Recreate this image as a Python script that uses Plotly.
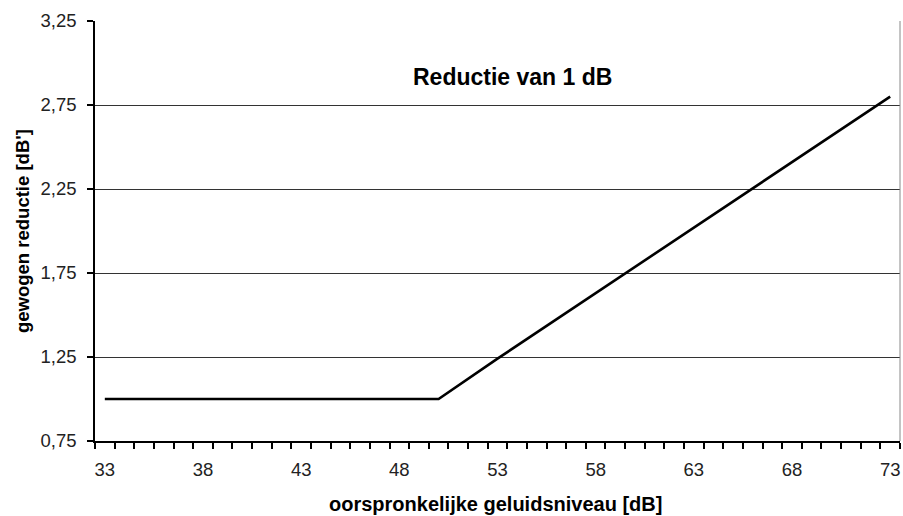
import plotly.graph_objects as go

# Data
x_vals = [33, 38, 43, 48, 50, 53, 58, 63, 68, 73]
y_vals = [1.00, 1.00, 1.00, 1.00, 1.00, 1.24, 1.63, 2.02, 2.41, 2.80]
x_ticks = [33, 38, 43, 48, 53, 58, 63, 68, 73]
y_ticks = [0.75, 1.25, 1.75, 2.25, 2.75, 3.25]

chart_title = "Reductie van 1 dB"
x_title = "oorspronkelijke geluidsniveau [dB]"
y_title = "gewogen reductie [dB']"

FONT = "Liberation Sans, Arial, sans-serif"
L, R, T, B = 95, 900, 21, 441
PW, PH = R - L, B - T

fig = go.Figure()
fig.add_trace(go.Scatter(
    x=x_vals, y=y_vals, mode="lines",
    line=dict(color="black", width=2.6),
    showlegend=False, hoverinfo="skip",
))

fig.update_layout(
    width=903, height=516,
    margin=dict(l=L, r=903 - R, t=T, b=516 - B, autoexpand=False),
    paper_bgcolor="white", plot_bgcolor="white",
    separators=",.",
    font=dict(family=FONT, color="#222222"),
)
fig.add_annotation(text="<b>" + chart_title + "</b>", xref="paper", yref="paper",
                   x=(512 - L) / PW, y=(B - 77) / PH, xanchor="center", yanchor="middle",
                   showarrow=False, font=dict(size=23, color="black", family=FONT))
fig.add_annotation(text="<b>" + x_title + "</b>", xref="paper", yref="paper",
                   x=(495 - L) / PW, y=-(504 - B) / PH, xanchor="center", yanchor="middle",
                   showarrow=False, font=dict(size=20, color="black", family=FONT))
fig.add_annotation(text="<b>" + y_title + "</b>", xref="paper", yref="paper",
                   x=-(L - 22) / PW, y=(B - 231) / PH, xanchor="center", yanchor="middle",
                   showarrow=False, textangle=-90,
                   font=dict(size=18.5, color="black", family=FONT))

fig.update_xaxes(
    range=[32.5, 73.5], tickvals=x_ticks, ticktext=[str(t) for t in x_ticks],
    ticks="", showgrid=False, zeroline=False, automargin=False,
    showline=True, linecolor="black", linewidth=1.5, mirror=False,
    ticklabelstandoff=11,
    tickfont=dict(size=18.5, family=FONT, color="#222222"),
    minor=dict(tick0=32.5, dtick=1, ticks="outside", ticklen=6, tickcolor="black", tickwidth=1.5, showgrid=False),
)
fig.update_yaxes(
    range=[0.75, 3.25], tickvals=y_ticks, tickformat=".2f",
    ticks="outside", ticklen=6, tickcolor="black", tickwidth=1.5,
    showgrid=True, gridcolor="#333333", gridwidth=1,
    zeroline=False, showline=True, linecolor="black", linewidth=1.5, automargin=False,
    ticklabelstandoff=7,
    tickfont=dict(size=18.5, family=FONT, color="#222222"),
)
# right border
fig.add_shape(type="line", xref="paper", yref="paper", x0=1, x1=1, y0=0, y1=1,
              line=dict(color="#888888", width=1))

fig.write_html("out.html", config={"displayModeBar": False},
               post_script="document.body.style.margin='0px';")
